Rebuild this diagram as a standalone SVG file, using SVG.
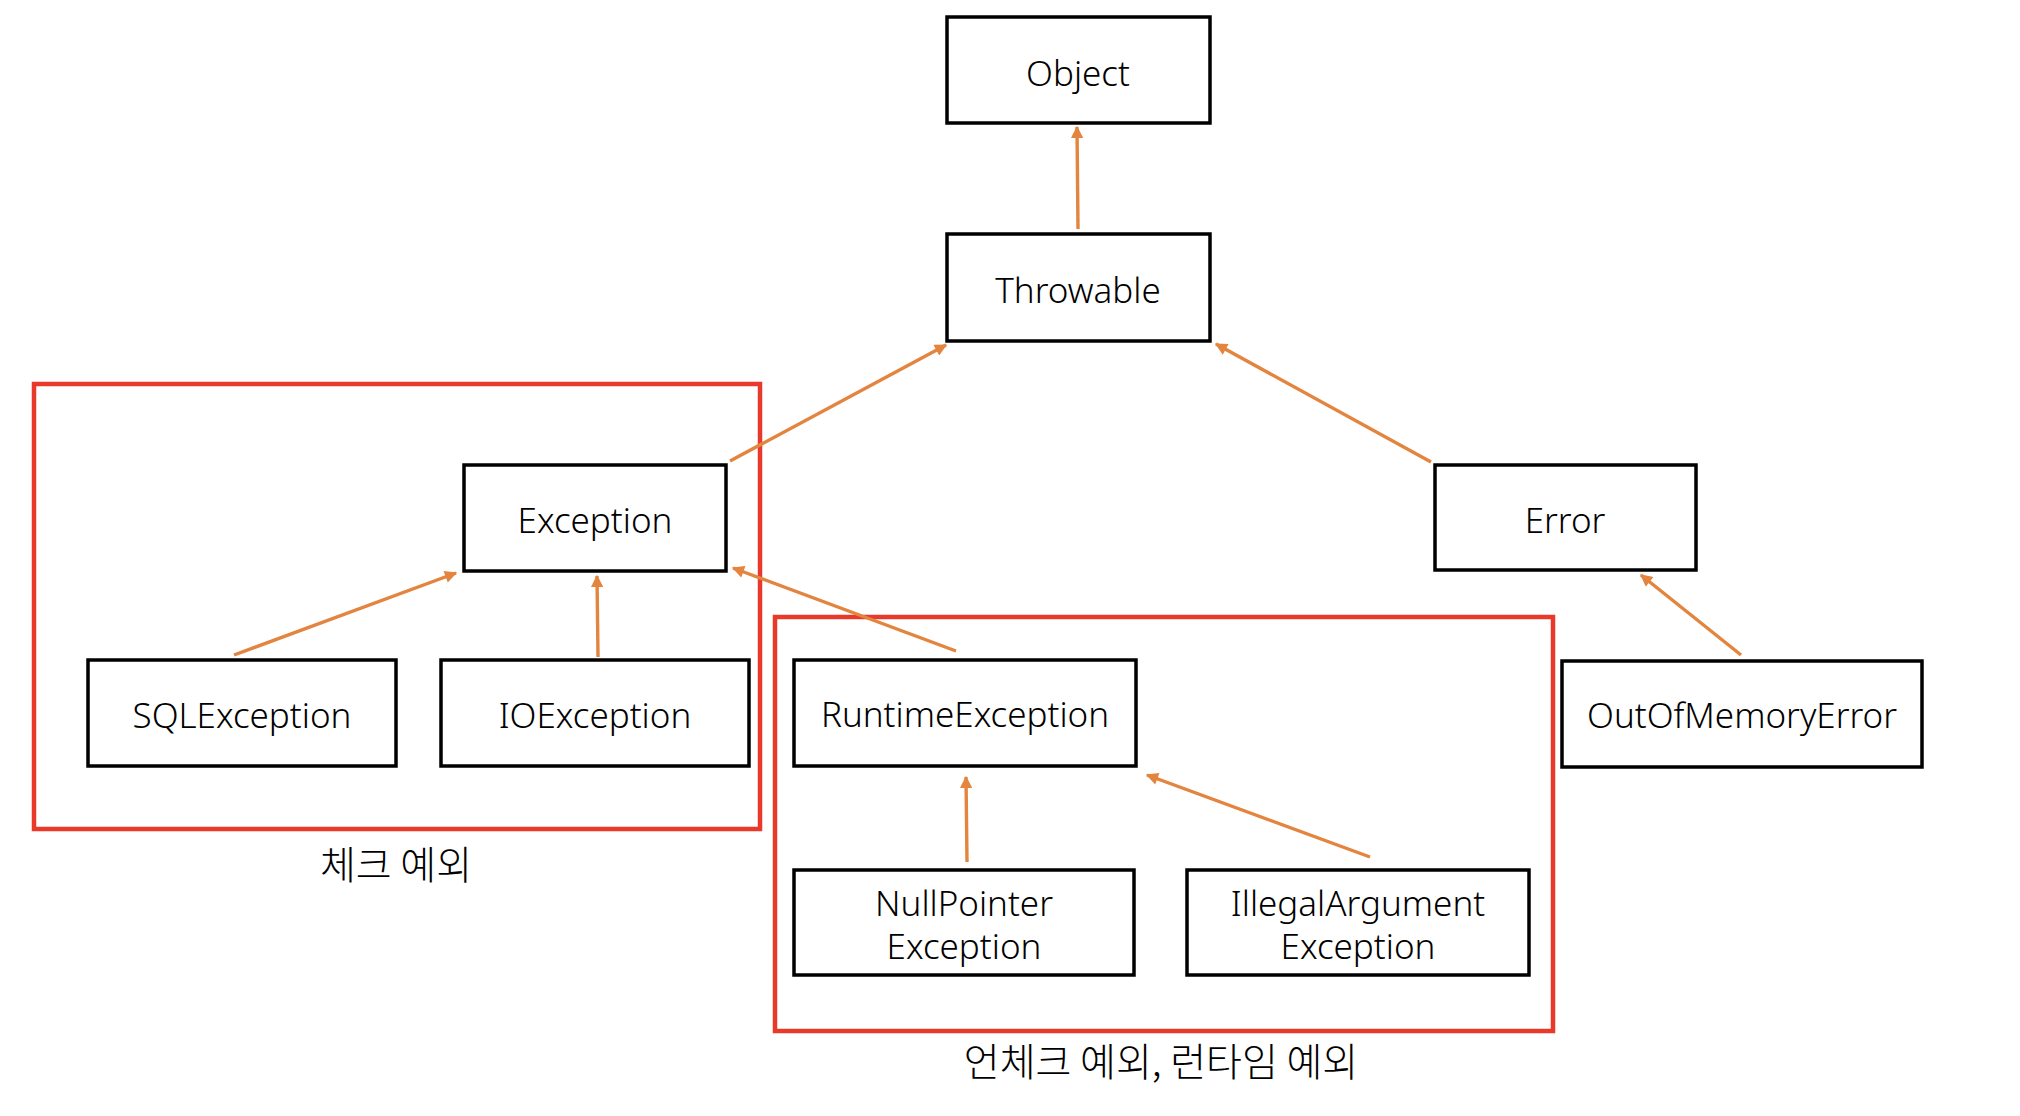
<svg xmlns="http://www.w3.org/2000/svg" width="2020" height="1116" viewBox="0 0 2020 1116">
<style>
.node{fill:#fff;stroke:#000;stroke-width:3.5}
.lbl{font-family:"Noto Sans","Noto Sans CJK KR",sans-serif;font-size:35px;font-weight:300;fill:#000;text-anchor:middle}
.klbl{font-family:"Noto Sans CJK KR","Noto Sans",sans-serif;font-size:39px;font-weight:300;fill:#000;text-anchor:middle}
.grp{fill:none;stroke:#E8392B;stroke-width:4.5}
.con{stroke:#E3843F;stroke-width:3.4;fill:none;marker-end:url(#ah)}
</style>
<defs>
<marker id="ah" viewBox="0 0 10 10" refX="9" refY="5" markerWidth="4" markerHeight="3.6" orient="auto" markerUnits="strokeWidth">
<path d="M0,0 L10,5 L0,10 z" fill="#E3843F"/>
</marker>
</defs>
<rect width="2020" height="1116" fill="#fff"/>
<g id="groups">
<rect class="grp" x="34" y="384" width="726" height="445"/>
<rect class="grp" x="775" y="617" width="778" height="414"/>
</g>
<g id="connectors">
<line class="con" x1="1078" y1="229" x2="1077" y2="127"/>
<line class="con" x1="730" y1="461" x2="946" y2="345"/>
<line class="con" x1="1431" y1="462" x2="1216" y2="344"/>
<line class="con" x1="234" y1="655" x2="456" y2="573"/>
<line class="con" x1="598" y1="657" x2="597" y2="576"/>
<line class="con" x1="956" y1="651" x2="733" y2="568"/>
<line class="con" x1="967" y1="862" x2="966" y2="777"/>
<line class="con" x1="1370" y1="857" x2="1147" y2="775"/>
<line class="con" x1="1741" y1="655" x2="1641" y2="575"/>
</g>
<g id="object"><rect class="node" x="947" y="17" width="263" height="106"/><text class="lbl" x="1078" y="86">Object</text></g>
<g id="throwable"><rect class="node" x="947" y="234" width="263" height="107"/><text class="lbl" x="1078" y="303">Throwable</text></g>
<g id="exception"><rect class="node" x="464" y="465" width="262" height="106"/><text class="lbl" x="595" y="533">Exception</text></g>
<g id="error"><rect class="node" x="1435" y="465" width="261" height="105"/><text class="lbl" x="1565" y="533">Error</text></g>
<g id="sqlexception"><rect class="node" x="88" y="660" width="308" height="106"/><text class="lbl" x="242" y="728">SQLException</text></g>
<g id="ioexception"><rect class="node" x="441" y="660" width="308" height="106"/><text class="lbl" x="595" y="728">IOException</text></g>
<g id="runtimeexception"><rect class="node" x="794" y="660" width="342" height="106"/><text class="lbl" x="965" y="727">RuntimeException</text></g>
<g id="outofmemoryerror"><rect class="node" x="1562" y="661" width="360" height="106"/><text class="lbl" x="1742" y="728">OutOfMemoryError</text></g>
<g id="nullpointerexception"><rect class="node" x="794" y="870" width="340" height="105"/><text class="lbl" x="964" y="916">NullPointer</text><text class="lbl" x="964" y="959">Exception</text></g>
<g id="illegalargumentexception"><rect class="node" x="1187" y="870" width="342" height="105"/><text class="lbl" x="1358" y="916">IllegalArgument</text><text class="lbl" x="1358" y="959">Exception</text></g>
<g id="labels">
<text class="klbl" x="396" y="879">체크 예외</text>
<text class="klbl" x="1161" y="1076">언체크 예외, 런타임 예외</text>
</g>
</svg>
